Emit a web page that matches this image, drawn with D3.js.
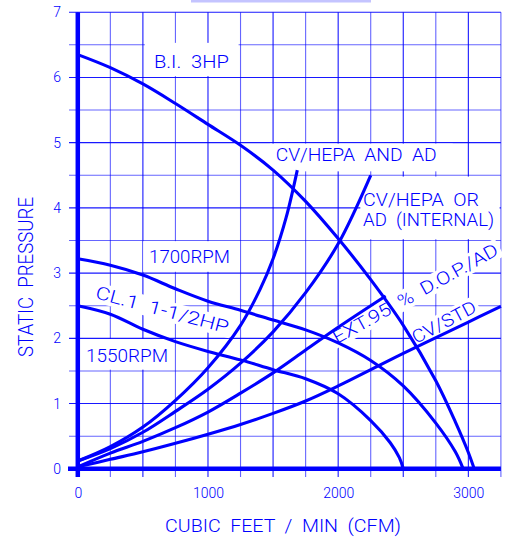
<!DOCTYPE html>
<html>
<head>
<meta charset="utf-8">
<script src="https://cdn.jsdelivr.net/npm/d3@7/dist/d3.min.js"></script>
<style>
  body { margin: 0; background: #fff; }
  text { font-family: Roboto, "Liberation Sans", sans-serif; font-weight: 300; }
</style>
</head>
<body>
<div id="chart"></div>
<script>
// tick values
var cfmTicks = [0, 1000, 2000, 3000]
var pressureTicks = [0, 1, 2, 3, 4, 5, 6, 7]

// fan curves [cfm, static pressure]
var biCurve = [[0,6.35],[250,6.15],[500,5.9],[750,5.6],[1000,5.28],[1250,4.96],[1500,4.58],[1750,4.1],[2000,3.53],
  [2250,2.9],[2500,2.2],[2750,1.35],[2900,0.72],[3000,0.25],[3045,0]]
var rpm1700Curve = [[0,3.22],[250,3.12],[500,2.97],[750,2.76],[1000,2.57],[1250,2.43],[1500,2.28],[1750,2.13],
  [2000,1.93],[2250,1.66],[2500,1.27],[2750,0.7],[2900,0.26],[2960,0]]
var rpm1550Curve = [[0,2.5],[250,2.37],[500,2.14],[750,1.95],[1000,1.8],[1250,1.67],[1500,1.52],[1750,1.38],
  [2000,1.15],[2250,0.74],[2400,0.4],[2470,0.17],[2500,0]]

// system curves
var hepaAdCurve = [[0,0.12],[250,0.34],[500,0.64],[750,1.05],[1000,1.55],[1250,2.2],[1400,2.75],[1500,3.22],
  [1600,3.85],[1686,4.58]]
var hepaOrAdCurve = [[0,0.12],[250,0.31],[500,0.56],[750,0.88],[1000,1.22],[1250,1.62],[1500,2.1],[1750,2.7],
  [2000,3.45],[2250,4.5]]
var extDopCurve = [[0,0.03],[250,0.24],[500,0.42],[750,0.63],[1000,0.87],[1250,1.16],[1500,1.47],[1750,1.82],
  [2000,2.17],[2365,2.65]]
var cvStdCurve = [[0,0.03],[250,0.145],[500,0.26],[750,0.39],[1000,0.53],[1250,0.68],[1500,0.85],[1750,1.04],
  [2000,1.27],[2500,1.77],[3000,2.25],[3250,2.49]]

var curves = [biCurve, rpm1700Curve, rpm1550Curve, hepaAdCurve, hepaOrAdCurve, extDopCurve, cvStdCurve]

var width = 508,
    height = 539

var svg = d3.select("#chart")
  .append("svg")
    .attr("width", width)
    .attr("height", height)

var x = d3.scaleLinear()
  .domain([0, 3250])
  .range([77.8, 500.9])

var y = d3.scaleLinear()
  .domain([0, 7])
  .range([468.8, 12.2])

var blue = "#0000ff"

// bit of a cut-off element at the top
svg.append("rect")
  .attr("x", 191).attr("y", 0)
  .attr("width", 180).attr("height", 2.5)
  .style("fill", "#c4c4ff")

// grid every 250 cfm / 0.5
svg.append("g")
  .selectAll("line")
  .data(d3.range(0, 3251, 250))
  .enter()
  .append("line")
    .attr("x1", function(d){ return x(d) })
    .attr("x2", function(d){ return x(d) })
    .attr("y1", y(7))
    .attr("y2", 477)
    .style("stroke", blue)
    .style("stroke-width", 1.1)
    .style("opacity", function(d){ return d % 500 == 0 ? 0.9 : 0.6 })

svg.append("g")
  .selectAll("line")
  .data(d3.range(0, 7.01, 0.5))
  .enter()
  .append("line")
    .attr("x1", 69)
    .attr("x2", x(3250))
    .attr("y1", function(d){ return y(d) })
    .attr("y2", function(d){ return y(d) })
    .style("stroke", blue)
    .style("stroke-width", 1.1)
    .style("opacity", function(d){ return d % 1 == 0 ? 0.9 : 0.6 })

// white boxes behind the straight labels [cfm0, cfm1, p0, p1]
var boxes = [[515,1235,6.02,6.53],[1475,2880,4.56,4.985],[2170,3240,3.52,4.48],[502,1245,3.02,3.49],[20,725,1.52,1.99]]
svg.append("g")
  .selectAll("rect")
  .data(boxes)
  .enter()
  .append("rect")
    .attr("x", function(d){ return x(d[0]) })
    .attr("y", function(d){ return y(d[3]) })
    .attr("width", function(d){ return x(d[1]) - x(d[0]) })
    .attr("height", function(d){ return y(d[2]) - y(d[3]) })
    .style("fill", "#fff")

// labels: text, cfm, pressure, angle, length
var labels = [
  ["B.I.  3HP", 585, 6.137, 0, 75],
  ["CV/HEPA  AND  AD", 1520, 4.719, 0, 161],
  ["CV/HEPA  OR", 2191, 4.033, 0, 116],
  ["AD  (INTERNAL)", 2191, 3.727, 0, 131],
  ["1700RPM", 547, 3.15, 0, 81],
  ["1550RPM", 63, 1.642, 0, 82],
  ["CL.1  1-1/2HP", 128, 2.618, 15, 137],
  ["EXT.95  %  D.O.P./AD", 1991, 1.913, -29, 186],
  ["CV/STD", 2598, 1.913, -28, 70]
]

var lab = svg.append("g")
  .selectAll("g")
  .data(labels)
  .enter()
  .append("g")
    .attr("transform", function(d){ return "translate(" + x(d[1]) + "," + y(d[2]) + ") rotate(" + d[3] + ")" })

// rotated ones need their own white box
lab.filter(function(d){ return d[3] != 0 })
  .append("rect")
    .attr("x", -3)
    .attr("y", -16)
    .attr("width", function(d){ return d[4] + 6 })
    .attr("height", 20)
    .style("fill", "#fff")

// curves
var line = d3.line()
  .x(function(d){ return x(d[0]) })
  .y(function(d){ return y(d[1]) })
  .curve(d3.curveCatmullRom.alpha(0.5))

svg.append("g")
  .selectAll("path")
  .data(curves)
  .enter()
  .append("path")
    .attr("d", line)
    .style("fill", "none")
    .style("stroke", blue)
    .style("stroke-width", 3.1)

lab.append("text")
  .text(function(d){ return d[0] })
  .attr("textLength", function(d){ return d[4] })
  .attr("lengthAdjust", "spacingAndGlyphs")
  .style("white-space", "pre")
  .style("font-size", "18px")
  .style("fill", blue)

// heavy axis lines
svg.append("line")
  .attr("x1", x(0)).attr("x2", x(0))
  .attr("y1", y(7)).attr("y2", 477)
  .style("stroke", blue)
  .style("stroke-width", 4.5)

svg.append("line")
  .attr("x1", 68).attr("x2", x(3250))
  .attr("y1", y(0)).attr("y2", y(0))
  .style("stroke", blue)
  .style("stroke-width", 4.5)

// tick labels
var yAxis = svg.append("g")
  .attr("transform", "translate(69,0)")
  .call(d3.axisLeft(y).tickValues(pressureTicks).tickSize(0).tickPadding(8).tickFormat(d3.format("d")))
yAxis.select(".domain").remove()

var xAxis = svg.append("g")
  .attr("transform", "translate(0,477)")
  .call(d3.axisBottom(x).tickValues(cfmTicks).tickSize(0).tickPadding(11).tickFormat(d3.format("d")))
xAxis.select(".domain").remove()

svg.selectAll(".tick text")
  .style("font-family", "Roboto, 'Liberation Sans', sans-serif")
  .style("font-size", "14px")
  .style("fill", blue)

// axis titles
svg.append("text")
  .attr("x", 283)
  .attr("y", 531.7)
  .attr("text-anchor", "middle")
  .attr("textLength", 236)
  .attr("lengthAdjust", "spacingAndGlyphs")
  .style("white-space", "pre")
  .style("font-size", "18.5px")
  .style("fill", blue)
  .text("CUBIC  FEET  /  MIN  (CFM)")

svg.append("text")
  .attr("transform", "translate(33.3,277) rotate(-90)")
  .attr("text-anchor", "middle")
  .attr("textLength", 160)
  .attr("lengthAdjust", "spacingAndGlyphs")
  .style("white-space", "pre")
  .style("font-size", "19.5px")
  .style("fill", blue)
  .text("STATIC  PRESSURE")
</script>
</body>
</html>
